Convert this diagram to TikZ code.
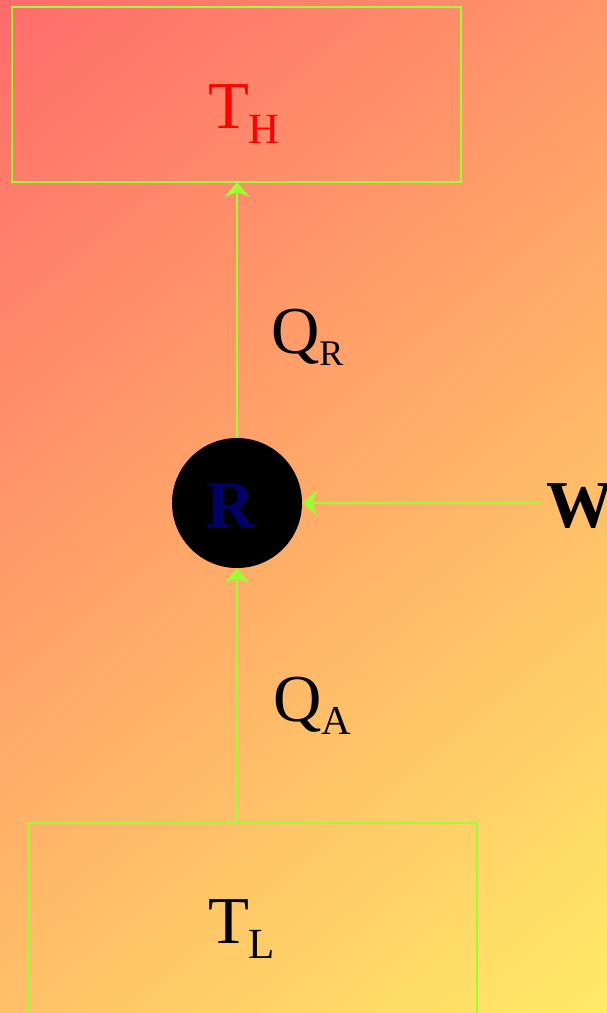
\documentclass[tikz,border=0pt]{standalone}
\usepackage{fontspec}
\setmainfont{Liberation Serif}
\usetikzlibrary{arrows.meta}
\definecolor{bgA}{RGB}{255,107,107}
\definecolor{bgM}{RGB}{255,185,105}
\definecolor{bgB}{RGB}{255,235,102}
\definecolor{edge}{RGB}{153,255,51}
\definecolor{navyR}{RGB}{0,0,102}
\begin{document}
\begin{tikzpicture}[x=1pt,y=-1pt,
  box/.style={draw=edge, line width=2pt, inner sep=0pt, outer sep=0pt},
  arr/.style={draw=edge, line width=2pt, -{Stealth[length=15pt,width=25pt,inset=5pt]}},
  lbl/.style={inner sep=0pt, outer sep=0pt, anchor=base west, font=\fontsize{67}{80}\selectfont}]
\useasboundingbox (0,0) rectangle (607,1013);
% background gradient
\begin{scope}
  \clip (0,0) rectangle (607,1013);
  \begin{scope}[transform canvas={rotate around={-50.19:(0,0)}}]
    \shade[left color=bgA, middle color=bgM, right color=bgB] (0,-800) rectangle (1166.8,800);
  \end{scope}
\end{scope}
% reservoirs
\node[box, minimum width=449pt, minimum height=175pt] (THbox) at (236.5,94.5) {};
\node[box, minimum width=448pt, minimum height=230pt, anchor=north] (TLbox) at (253,822.5) {};
% refrigerator
\node[circle, fill=black, minimum size=130pt, inner sep=0pt] (R) at (237,503) {};
% labels
\node[lbl, text=red] (TH) at (208,128) {T\fontsize{43}{50}\selectfont\raisebox{-15pt}{H}};
\node[lbl] (TL) at (208,943) {T\fontsize{43}{50}\selectfont\raisebox{-15pt}{L}};
\node[lbl] (QR) at (271,353) {Q\fontsize{36}{42}\selectfont\raisebox{-12pt}{R}};
\node[lbl] (QA) at (273,721) {Q\fontsize{41}{48}\selectfont\raisebox{-13pt}{A}};
\node[lbl, text=navyR] (Rl) at (206,527) {\bfseries R};
\node[lbl, inner xsep=5pt] (W) at (541,527) {\bfseries W};
% flows
\draw[arr] (R.north) -- (R.north |- THbox.south);
\draw[arr] (R.center |- TLbox.north) -- (R.south);
\draw[arr] (W.west |- R.center) -- (R.east);
\end{tikzpicture}
\end{document}
